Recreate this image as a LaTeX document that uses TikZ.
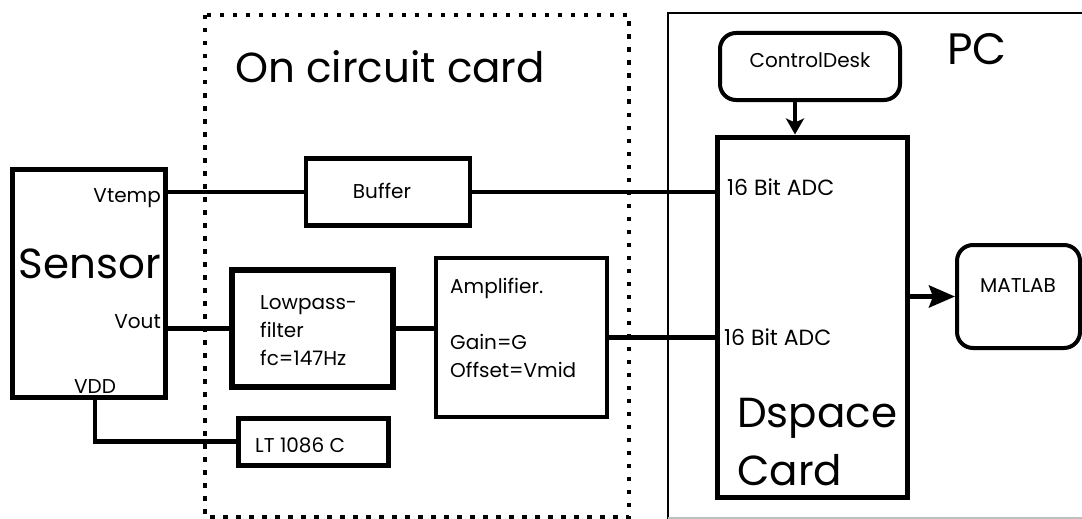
\documentclass[tikz,border=0pt]{standalone}
\usepackage{fontspec}
\setmainfont{Poppins}
\usetikzlibrary{arrows.meta,positioning}

\tikzset{
  blk/.style={draw, line width=5pt, inner sep=0pt},
  rblk/.style={draw, line width=4pt, rounded corners=16pt, inner sep=0pt},
  wire/.style={line width=4.5pt},
  lbl/.style={inner sep=0pt, align=left, font=\fontsize{20}{28}\selectfont},
  biglbl/.style={inner sep=0pt, align=left, font=\fontsize{42}{58}\selectfont},
}

\begin{document}
\begin{tikzpicture}[x=1pt,y=-1pt]
\useasboundingbox (0,0) rectangle (1082,519);

% frames round the two parts
\draw[line width=4.5pt, dash pattern=on 4.5pt off 8.5pt] (205,15) rectangle (629,517);
\draw[line width=2.5pt] (1090,13) -- (668,13) -- (668,519);
\draw[line width=1.5pt, gray!50] (668,518) -- (1090,518);

% boxes
\node[blk, minimum width=153pt, minimum height=228pt] (sensor) at (88.5,283) {};
\node[blk, line width=4.5pt, minimum width=164pt, minimum height=67pt] (buffer) at (388,192) {};
\node[blk, line width=6pt, minimum width=161pt, minimum height=117pt] (lowpass) at (312.5,328.5) {};
\node[blk, line width=4pt, minimum width=171pt, minimum height=159pt] (amp) at (521.5,337.5) {};
\node[blk, minimum width=150pt, minimum height=47pt] (ltreg) at (313,441.5) {};
\node[blk, minimum width=190pt, minimum height=360pt] (dspace) at (812,317) {};
\node[rblk, minimum width=180pt, minimum height=67pt] (ctrldesk) at (810,66.5) {};
\node[rblk, minimum width=123pt, minimum height=103pt] (matlab) at (1018.5,296.5) {};

% texts
\node[biglbl, anchor=base west] (cardlbl) at (235,83) {On circuit card};
\node[biglbl, anchor=base west, font=\fontsize{44}{50}\selectfont] (pclbl) at (947,65) {PC};
\node[biglbl, anchor=base, font=\fontsize{42}{50}\selectfont] (sensorlbl) at (90,278) {Sensor};
\node[lbl, anchor=base east] (vtemplbl) at (161,202) {Vtemp};
\node[lbl, anchor=base east] (voutlbl) at (161,328) {Vout};
\node[lbl, anchor=base] (vddlbl) at (95,393) {VDD};
\node[lbl, anchor=base] (bufferlbl) at (382,198) {Buffer};
% multi-line texts sit on their last line
\node[lbl, anchor=base west] (lowpasslbl) at (260,365) {Lowpass-\\filter\\fc=147Hz};
\node[lbl, anchor=base west] (amplbl) at (450,377) {Amplifier.\\[28pt]Gain=G\\Offset=Vmid};
\node[lbl, anchor=base west] (ltlbl) at (255,452) {LT 1086 C};
\node[lbl, anchor=base west, font=\fontsize{22}{28}\selectfont] (adcone) at (727,195) {16 Bit ADC};
\node[lbl, anchor=base west, font=\fontsize{22}{28}\selectfont] (adctwo) at (724,345) {16 Bit ADC};
\node[biglbl, anchor=base west] (dspacelbl) at (737,485) {Dspace\\Card};
\node[lbl, anchor=base] (ctrllbl) at (810,67) {ControlDesk};
\node[lbl, anchor=base] (matlablbl) at (1018,292) {MATLAB};

% connectors
\draw[wire] (buffer.west -| sensor.east) -- (buffer.west);
\draw[wire] (buffer.east) -- (buffer.east -| dspace.west);
\draw[wire] (lowpass.west -| sensor.east) -- (lowpass.west);
\draw[wire] (lowpass.east) -- (lowpass.east -| amp.west);
\draw[wire] (amp.east) -- (amp.east -| dspace.west);
\draw[wire] (vddlbl.south |- sensor.south) |- (ltreg.west);
\draw[wire, -{Stealth[length=16pt, width=18pt, inset=4pt]}]
  ([xshift=-15pt]ctrldesk.south) -- ([xshift=-15pt]ctrldesk.south |- dspace.north);
\draw[wire, -{Stealth[length=26pt, width=22pt, inset=4pt]}]
  (dspace.east |- matlab.west) -- (matlab.west);
\end{tikzpicture}
\end{document}
